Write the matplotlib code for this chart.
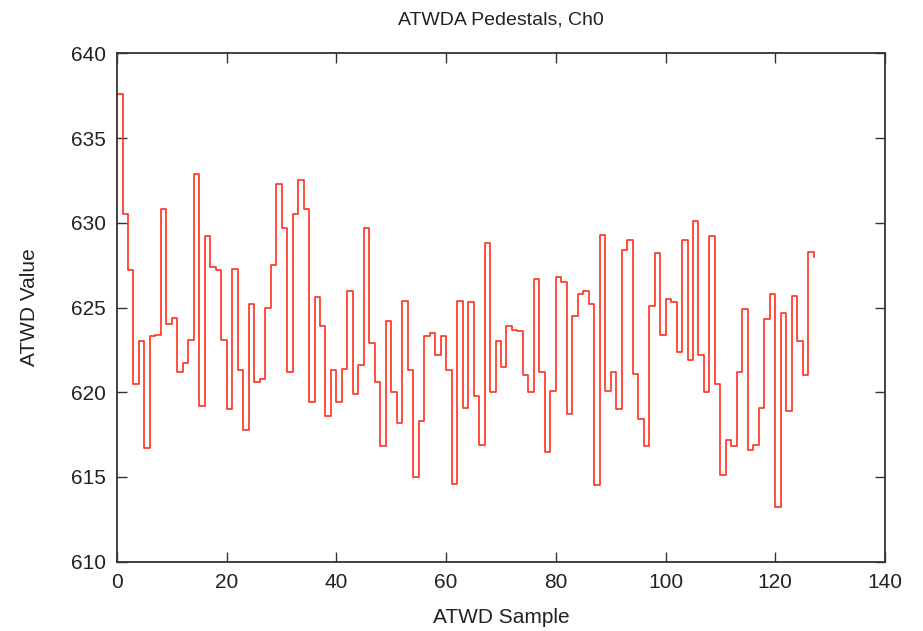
import numpy as np
import matplotlib
matplotlib.use("Agg")
import matplotlib.pyplot as plt

plt.rcParams['font.family'] = ['Liberation Sans', 'DejaVu Sans']

# ATWD channel 0 pedestal, one value per sample (0..127)
pedestal = [
    637.6, 630.5, 627.2, 620.5, 623.0, 616.7, 623.3, 623.4, 630.8, 624.0,
    624.4, 621.2, 621.7, 623.1, 632.9, 619.2, 629.2, 627.4, 627.2, 623.1,
    619.0, 627.3, 621.3, 617.8, 625.2, 620.6, 620.8, 625.0, 627.5, 632.3,
    629.7, 621.2, 630.5, 632.5, 630.8, 619.4, 625.6, 623.9, 618.6, 621.3,
    619.4, 621.4, 626.0, 619.9, 621.6, 629.7, 622.9, 620.6, 616.8, 624.2,
    620.0, 618.2, 625.4, 621.3, 615.0, 618.3, 623.3, 623.5, 622.2, 623.3,
    621.3, 614.6, 625.4, 619.1, 625.3, 619.8, 616.9, 628.8, 620.0, 623.0,
    621.5, 623.9, 623.7, 623.6, 621.0, 620.0, 626.7, 621.2, 616.5, 620.1,
    626.8, 626.5, 618.7, 624.5, 625.8, 626.0, 625.2, 614.5, 629.3, 620.1,
    621.2, 619.0, 628.4, 629.0, 621.1, 618.4, 616.8, 625.1, 628.2, 623.4,
    625.5, 625.3, 622.4, 629.0, 621.9, 630.1, 622.2, 620.0, 629.2, 620.5,
    615.1, 617.2, 616.8, 621.2, 624.9, 616.6, 616.9, 619.1, 624.3, 625.8,
    613.2, 624.7, 618.9, 625.7, 623.0, 621.0, 628.3, 628.0,
]
sample = np.arange(len(pedestal))

fig = plt.figure(figsize=(9.23, 6.31), dpi=100)
ax = fig.add_axes([0.1268, 0.1098, 0.8320, 0.8057])

ax.step(sample, pedestal, where='post', color='#ff3020', linewidth=1.2)

ax.set_xlim(0, 140)
ax.set_ylim(610, 640)
ax.set_xticks(np.arange(0, 141, 20))
ax.set_yticks(np.arange(610, 641, 5))

for side in ax.spines.values():
    side.set_color('#333333')
    side.set_linewidth(1.3)
ax.tick_params(direction='in', length=7, width=1.0, color='#333333',
               top=True, right=True, labelsize=15, labelcolor='#222222', pad=8)

ax.set_title("ATWDA Pedestals, Ch0", fontsize=14, color='#222222', pad=21)
ax.set_xlabel("ATWD Sample", fontsize=15, color='#222222', labelpad=12)
ax.set_ylabel("ATWD Value", fontsize=15, color='#222222', labelpad=23)

fig.savefig("out.png", dpi=100)
